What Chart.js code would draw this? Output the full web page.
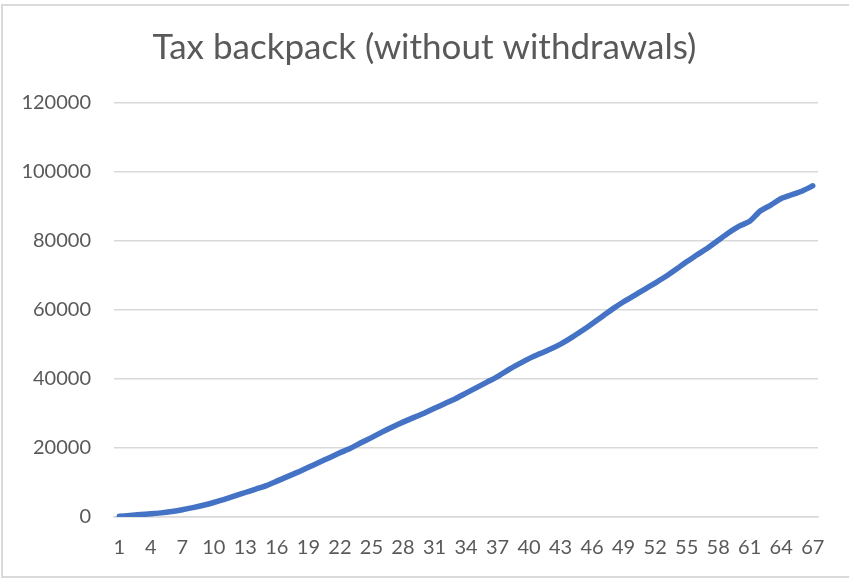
<!DOCTYPE html>
<html>
<head>
<meta charset="utf-8">
<script src="https://cdn.jsdelivr.net/npm/chart.js@4"></script>
<style>
  html, body { margin: 0; padding: 0; background: #fff; }
  #wrap { position: relative; width: 849px; height: 582px; overflow: hidden; }
  #frame {
    position: absolute; left: 1px; top: 4px; width: 860px; height: 574px;
    border: 2px solid #dadada; box-sizing: border-box; pointer-events: none;
  }
  canvas { position: absolute; left: 0; top: 0; }
</style>
</head>
<body>
<div id="wrap">
  <canvas id="taxChart" width="849" height="582"></canvas>
  <div id="frame"></div>
</div>
<script>
// ===== DATA =====
const chartTitle = "Tax backpack (without withdrawals)";

const years = [];
for (let i = 1; i <= 67; i++) years.push(String(i));

const backpackValues = [
  200, 450, 700, 950, 1200, 1600, 2100, 2700, 3400, 4200,
  5100, 6100, 7100, 8100, 9100, 10400, 11700, 13000, 14400, 15800,
  17200, 18600, 19900, 21500, 23000, 24600, 26100, 27500, 28800, 30100,
  31500, 32900, 34300, 35900, 37500, 39100, 40700, 42600, 44300, 45900,
  47300, 48600, 50100, 51900, 53900, 56000, 58200, 60400, 62400, 64200,
  66000, 67800, 69700, 71800, 74000, 76000, 78000, 80200, 82400, 84300,
  85700, 88700, 90400, 92300, 93400, 94500, 96000
];

const yTicks = [0, 20000, 40000, 60000, 80000, 100000, 120000];

const textColor = "#595959";
const gridColor = "#d9d9d9";

// ===== CHART =====
const ctx = document.getElementById("taxChart").getContext("2d");

new Chart(ctx, {
  type: "line",
  data: {
    labels: years,
    datasets: [
      {
        label: "Tax backpack",
        data: backpackValues,
        borderColor: "#4472c4",
        borderWidth: 5.5,
        borderCapStyle: "round",
        borderJoinStyle: "round",
        fill: false,
        tension: 0.2,
        pointRadius: 0
      }
    ]
  },
  options: {
    responsive: false,
    animation: false,
    layout: {
      padding: { top: 12, right: 0, bottom: 0, left: 0 }
    },
    plugins: {
      legend: { display: false },
      tooltip: { enabled: false },
      title: {
        display: true,
        text: chartTitle,
        color: textColor,
        font: { family: "Lato", size: 35, weight: "normal" },
        padding: { top: 15, bottom: 34 }
      }
    },
    scales: {
      x: {
        offset: true,
        grid: { display: false, drawTicks: false },
        border: { display: true, color: gridColor, width: 1.5 },
        ticks: {
          color: textColor,
          font: { family: "Lato", size: 20 },
          padding: 19,
          autoSkip: false,
          maxRotation: 0,
          callback: (value, index) => (index % 3 === 0 ? years[index] : null)
        },
        afterFit: scale => { scale.height = 65; }
      },
      y: {
        min: yTicks[0],
        max: yTicks[yTicks.length - 1],
        grid: { color: gridColor, lineWidth: 1.5, drawTicks: false },
        border: { display: false },
        ticks: {
          stepSize: 20000,
          color: textColor,
          font: { family: "Lato", size: 20 },
          padding: 23,
          callback: value => String(value)
        },
        afterFit: scale => { scale.width = 114; }
      },
      // empty right-hand spacer so the plot ends where the reference does
      yRight: {
        position: "right",
        grid: { display: false, drawTicks: false },
        border: { display: false },
        ticks: { display: false },
        afterFit: scale => { scale.width = 31; }
      }
    }
  }
});
</script>
</body>
</html>
